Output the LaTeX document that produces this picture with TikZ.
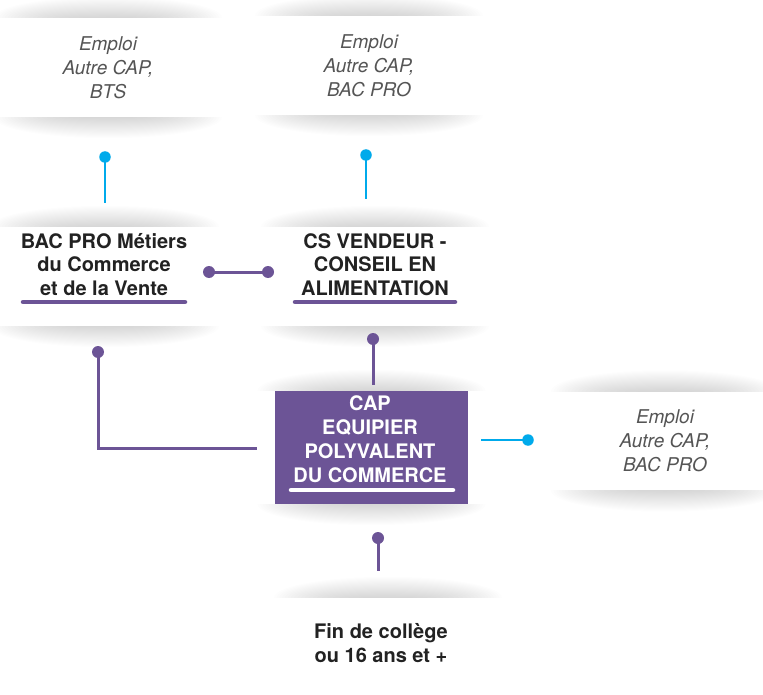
\documentclass[tikz,border=0pt]{standalone}
\usepackage{fontspec}
\setmainfont{TeX Gyre Heros}
\usetikzlibrary{calc}
\definecolor{cpurple}{RGB}{108,84,150}
\definecolor{cblue}{RGB}{0,170,235}
\definecolor{ctext}{RGB}{34,34,34}
\definecolor{cgrey}{RGB}{85,85,85}
\newcommand\shadowlayers{%
  \foreach \i in {1,...,20}{%
    \fill[black, fill opacity=0.0085] (0,0) ellipse ({114*(\i/20)^0.45} and {21*\i/20});}}
\newcommand\shadeabove[1]{%
  \begin{scope}[shift={(#1.north)}]
    \clip (-125,0) rectangle (125,30);
    \shadowlayers
  \end{scope}}
\newcommand\shadebelow[1]{%
  \begin{scope}[shift={(#1.south)}]
    \clip (-125,0) rectangle (125,-30);
    \shadowlayers
  \end{scope}}
\tikzset{
  card/.style={fill=white, minimum width=208pt, minimum height=99pt, inner sep=0pt},
  emploi/.style={font=\fontsize{19}{23.8}\selectfont\itshape, text=cgrey, align=center, inner sep=0pt},
  title/.style={font=\fontsize{20}{23.6}\selectfont\bfseries, text=ctext, align=center, inner sep=0pt},
  captitle/.style={font=\fontsize{20}{24}\selectfont\bfseries, text=white, align=center, inner sep=0pt},
  purpleline/.style={draw=cpurple, line width=3pt},
  blueline/.style={draw=cblue, line width=2.8pt},
  pdot/.style={circle, fill=cpurple, inner sep=0pt, minimum size=12pt},
  bdot/.style={circle, fill=cblue, inner sep=0pt, minimum size=11.5pt},
  uline/.style={line width=4.5pt, line cap=round},
}
\begin{document}
\begin{tikzpicture}[x=1pt,y=1pt]
\useasboundingbox (0,0) rectangle (763,-695);
\fill[white] (0,0) rectangle (763,-695);

% cards
\node[card, emploi] (e1) at (108,-67.5) {Emploi\\Autre CAP,\\BTS};
\node[card, emploi] (e2) at (369,-65.5) {Emploi\\Autre CAP,\\BAC PRO};
\node[card, emploi] (e3) at (665,-441) {Emploi\\Autre CAP,\\BAC PRO};
\node[card] (baccard) at (105,-276.5) {};
\node[card] (cscard) at (375,-276.5) {};
\node[card] (fincard) at (388,-647.5) {};
\node[fill=cpurple, minimum width=193pt, minimum height=113pt, inner sep=0pt] (cap) at (371.5,-447.5) {};

% shadows
\shadeabove{e1}\shadebelow{e1}
\shadeabove{e2}\shadebelow{e2}
\shadeabove{e3}\shadebelow{e3}
\shadeabove{baccard}\shadebelow{baccard}
\shadeabove{cscard}\shadebelow{cscard}
\shadeabove{cap}\shadebelow{cap}
\shadeabove{fincard}

% texts
\node[title] (bac) at (104,-264.5) {BAC PRO Métiers\\du Commerce\\et de la Vente};
\node[title] (cs) at (375,-264.5) {CS VENDEUR -\\CONSEIL EN\\ALIMENTATION};
\node[captitle] (capt) at (370,-439) {CAP\\EQUIPIER\\POLYVALENT\\DU COMMERCE};
\node[title] (fin) at (381,-643) {Fin de collège\\ou 16 ans et +};

% underlines
\draw[uline, cpurple] ($(baccard.center)+(-82,-25.5)$) -- ($(baccard.center)+(80,-25.5)$);
\draw[uline, cpurple] ($(cscard.center)+(-80,-25.5)$) -- ($(cscard.center)+(80,-25.5)$);
\draw[uline, white] ($(cap.center)+(-80.5,-42.5)$) -- ($(cap.center)+(81.5,-42.5)$);

% connector ends
\node[bdot] (d1) at (105,-157) {};
\coordinate (d1e) at (105,-203);
\node[bdot] (d2) at (366,-155) {};
\coordinate (d2e) at (366,-199);
\node[pdot] (d3a) at (209,-272) {};
\node[pdot] (d3b) at (268,-272) {};
\node[pdot] (d4) at (373,-339) {};
\coordinate (d4e) at (373,-385);
\node[pdot] (d5) at (98,-352) {};
\coordinate (d5e) at (257,-448);
\node[bdot] (d6) at (528,-440) {};
\coordinate (d6s) at (481,-440);
\node[pdot] (d7) at (378,-538) {};
\coordinate (d7e) at (378,-571);

% connectors
\draw[blueline] (d1.center) -- (d1e);
\draw[blueline] (d2.center) -- (d2e);
\draw[purpleline] (d3a.center) -- (d3b.center);
\draw[purpleline] (d4.center) -- (d4e);
\draw[purpleline] (d5.center) |- (d5e);
\draw[blueline] (d6s) -- (d6.center);
\draw[purpleline] (d7.center) -- (d7e);
\end{tikzpicture}
\end{document}
